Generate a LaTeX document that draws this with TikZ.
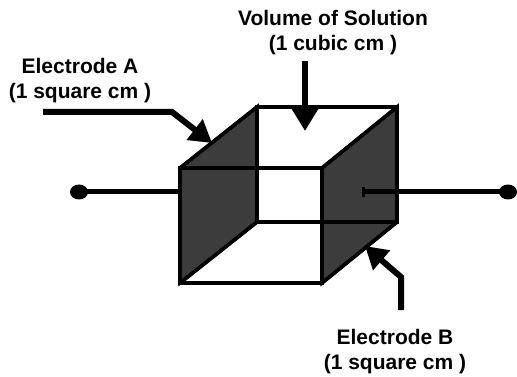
\documentclass[tikz,border=0pt]{standalone}
\usepackage{fontspec}
\setmainfont{Liberation Sans}
\usetikzlibrary{arrows.meta,shapes.geometric}
\definecolor{facegray}{RGB}{60,60,60}
\tikzset{
  lbl/.style={font=\bfseries\fontsize{21}{25}\selectfont, align=center, inner sep=0pt},
  edge/.style={line width=3.5pt, line join=miter},
  face/.style={fill=facegray, draw=black, line width=3.5pt, line join=miter},
  wire/.style={line width=5pt},
  pointer/.style={line width=6pt, line join=miter, -{Triangle[length=22pt,width=25pt]}},
  terminal/.style={fill=black, draw=none, ellipse, minimum width=18pt, minimum height=15pt, inner sep=0pt}
}
\begin{document}
\begin{tikzpicture}[x=1pt,y=-1pt]
\useasboundingbox (0,0) rectangle (517,377);
% cube corners
\coordinate (F1) at (180,168); \coordinate (F2) at (322,168);
\coordinate (F3) at (322,283); \coordinate (F4) at (180,283);
\coordinate (B1) at (257,107); \coordinate (B2) at (397,107);
\coordinate (B3) at (397,222); \coordinate (B4) at (257,222);
% faces
\filldraw[face] (F1) -- (B1) -- (B4) -- (F4) -- cycle;
\filldraw[face] (F2) -- (B2) -- (B3) -- (F3) -- cycle;
\draw[edge] (F1) -- (F2) -- (F3) -- (F4) -- cycle;
\draw[edge] (B1) -- (B2) -- (B3) -- (B4) -- cycle;
\draw[edge] (F1) -- (B1); \draw[edge] (F2) -- (B2);
\draw[edge] (F3) -- (B3); \draw[edge] (F4) -- (B4);
% terminals
\node[terminal] (tl) at (79,192) {};
\node[terminal] (tr) at (508,192) {};
\coordinate (wl) at (180,192);
\coordinate (wr) at (362,192);
\draw[wire] (tl.center) -- (wl);
\draw[wire, {Bar[width=10pt,line width=3pt]}-] (wr) -- (tr.center);
% labels
\node[lbl] (volume) at (333,33) {Volume of Solution\\(1 cubic cm )};
\node[lbl] (elA) at (80,81) {Electrode A\\(1 square cm )};
\node[lbl] (elB) at (395,352) {Electrode B\\(1 square cm )};
% pointers
\coordinate (v0) at (305,61); \coordinate (v1) at (305,131);
\draw[pointer] (v0) -- (v1);
\coordinate (a0) at (43,112); \coordinate (a1) at (172,112); \coordinate (a2) at (212,143);
\draw[pointer] (a0) -- (a1) -- (a2);
\coordinate (b0) at (401,310); \coordinate (b1) at (401,277); \coordinate (b2) at (365,246);
\draw[pointer] (b0) -- (b1) -- (b2);
\end{tikzpicture}
\end{document}
